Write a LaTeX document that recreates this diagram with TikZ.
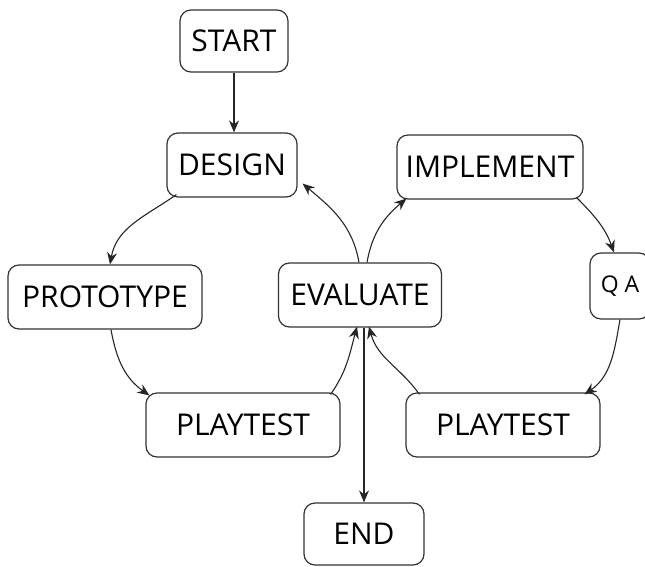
\documentclass[tikz,border=0pt]{standalone}
\usepackage{fontspec}
\setmainfont{Open Sans}
\usetikzlibrary{arrows.meta,calc}
\begin{document}
\begin{tikzpicture}[x=1pt,y=-1pt,
  box/.style={draw=black!80, line width=1.2pt, rounded corners=11pt, fill=white,
    inner sep=0pt, font=\fontsize{30}{30}\selectfont},
  flow/.style={draw=black!85, line width=1.1pt, -{Stealth[length=12pt,width=10pt]}}]
\useasboundingbox (0,0) rectangle (645,567);
\clip (0,0) rectangle (645,567);
% stages of the cycle
\node[box, minimum width=108pt, minimum height=62pt] (start) at (234,41) {START};
\node[box, minimum width=130pt, minimum height=64pt] (design) at (232,165) {DESIGN};
\node[box, minimum width=186pt, minimum height=64pt] (implement) at (490,167) {IMPLEMENT};
\node[box, minimum width=194pt, minimum height=64pt] (prototype) at (105,297) {PROTOTYPE};
\node[box, minimum width=163pt, minimum height=64pt] (evaluate) at (360,295) {EVALUATE};
\node[box, minimum width=60pt, minimum height=66pt, font=\fontsize{23}{23}\selectfont] (qa) at (620,286) {Q A};
\node[box, minimum width=194pt, minimum height=64pt] (playl) at (243,425) {PLAYTEST};
\node[box, minimum width=194pt, minimum height=64pt] (playr) at (503,425) {PLAYTEST};
\node[box, minimum width=120pt, minimum height=62pt] (end) at (364,534) {END};
% connectors
\draw[flow] (start.south) -- (start.south |- design.north);
\draw[flow] ($(design.south west)+(10,-3)$) to[out=215,in=80] ($(prototype.north)+(5,0)$);
\draw[flow] ($(prototype.south)+(6,0)$) to[out=-80,in=145] ($(playl.north west)+(4,3)$);
\draw[flow] ($(playl.north east)+(-10,2)$) to[out=55,in=-105] ($(evaluate.south)+(-3,-1)$);
\draw[flow] ($(evaluate.north)+(-1,0)$) to[out=100,in=-40] ($(design.south east)+(5,-14)$);
\draw[flow] ($(evaluate.north)+(7,0)$) to[out=80,in=-140] ($(implement.south west)+(10,-1)$);
\draw[flow] ($(implement.south east)+(-7,-2)$) to[out=-45,in=110] ($(qa.north)+(-6,0)$);
\draw[flow] (qa.south) to[out=-100,in=35] ($(playr.north east)+(-16,2)$);
\draw[flow] ($(playr.north west)+(14,2)$) to[out=125,in=-75] ($(evaluate.south)+(9,-1)$);
\draw[flow] ($(evaluate.south)+(4,0)$) -- (end.north);
\end{tikzpicture}
\end{document}
